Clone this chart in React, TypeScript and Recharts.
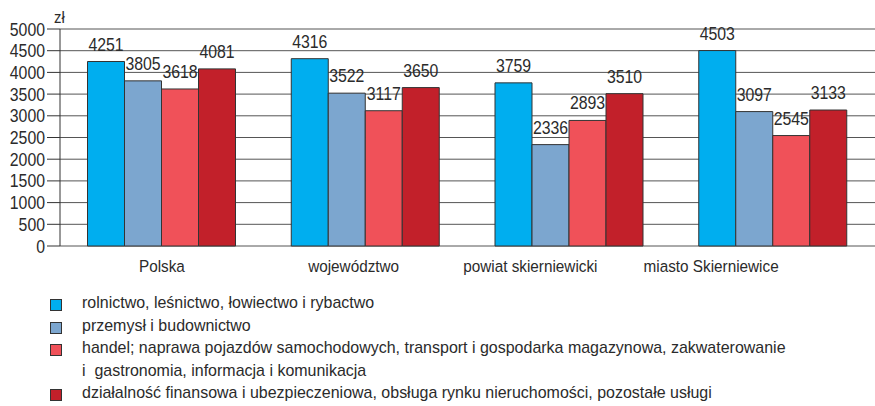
import { BarChart, Bar, XAxis, YAxis, CartesianGrid, LabelList } from 'recharts'

const categories = ['Polska', 'województwo', 'powiat skierniewicki', 'miasto Skierniewice']
const rolnictwo = [4251, 4316, 3759, 4503]
const przemysl = [3805, 3522, 2336, 3097]
const handel = [3618, 3117, 2893, 2545]
const finanse = [4081, 3650, 3510, 3133]
const yTicks = [0, 500, 1000, 1500, 2000, 2500, 3000, 3500, 4000, 4500, 5000]
const boundaryTicks = [0, 1, 2, 3, 4]

const series = [
  { key: 'rolnictwo', color: '#00AEEF', label: 'rolnictwo, leśnictwo, łowiectwo i rybactwo' },
  { key: 'przemysl', color: '#7CA6CF', label: 'przemysł i budownictwo' },
  {
    key: 'handel',
    color: '#F05159',
    label:
      'handel; naprawa pojazdów samochodowych, transport i gospodarka magazynowa, zakwaterowanie\ni  gastronomia, informacja i komunikacja',
  },
  { key: 'finanse', color: '#C2202A', label: 'działalność finansowa i ubezpieczeniowa, obsługa rynku nieruchomości, pozostałe usługi' },
]

const data = categories.map((name, i) => ({
  name,
  rolnictwo: rolnictwo[i],
  przemysl: przemysl[i],
  handel: handel[i],
  finanse: finanse[i],
}))

const FONT = '"Liberation Sans", Arial, sans-serif'
const TEXT = '#2b2b2b'
const SX = 0.88
// w oryginale podpisy kategorii są przesunięte w lewo względem słupków
const labelShift = [0, -12, -39, -62]

// tekst "zwężony" — brak fontu condensed, więc skalujemy w poziomie
function NarrowText({ x, y, anchor, size, sx = SX, children }: any) {
  return (
    <text
      transform={`translate(${x},${y}) scale(${sx},1)`}
      textAnchor={anchor}
      fill={TEXT}
      fontSize={size}
      fontFamily={FONT}
    >
      {children}
    </text>
  )
}

const YTick = ({ x, y, payload }: any) => (
  <NarrowText x={x} y={y + 6.5} anchor="end" size={18}>
    {payload.value}
  </NarrowText>
)

const XTick = ({ x, y, payload, index }: any) => (
  <NarrowText x={x + (labelShift[index] ?? 0)} y={y + 20} anchor="middle" size={17} sx={0.9}>
    {payload.value}
  </NarrowText>
)

const ValueLabel = ({ x, y, width, value }: any) => (
  <NarrowText x={x + width / 2} y={y - 11} anchor="middle" size={18}>
    {value}
  </NarrowText>
)

export default function App() {
  return (
    <div style={{ width: 875, height: 406, position: 'relative', fontFamily: FONT, background: '#fff' }}>
      <style>{'body{margin:0}'}</style>
      <BarChart
        width={875}
        height={282}
        data={data}
        margin={{ top: 29, right: 0, bottom: 0, left: 0 }}
        barCategoryGap="13.5%"
        barGap={0}
      >
        <CartesianGrid stroke="#555" vertical={false} />
        <XAxis
          xAxisId="bounds"
          type="number"
          domain={[0, 4]}
          ticks={boundaryTicks}
          height={0}
          tickSize={6}
          tickFormatter={() => ''}
          stroke="#333"
        />
        <XAxis dataKey="name" height={36} axisLine={false} tickLine={false} tick={<XTick />} tickMargin={0} />
        <YAxis
          domain={[0, 5000]}
          ticks={yTicks}
          width={60}
          interval={0}
          tickSize={13}
          tickMargin={2}
          stroke="#333"
          tick={<YTick />}
          label={{
            content: ({ viewBox }: any) => (
              <NarrowText x={viewBox.x + 54} y={viewBox.y - 6} anchor="start" size={17}>
                zł
              </NarrowText>
            ),
          }}
        />
        {series.map(s => (
          <Bar key={s.key} dataKey={s.key} fill={s.color} stroke="#333" strokeWidth={1} isAnimationActive={false}>
            <LabelList dataKey={s.key} content={<ValueLabel />} />
          </Bar>
        ))}
      </BarChart>
      <div style={{ position: 'absolute', left: 50, top: 292, fontSize: 17, color: TEXT, lineHeight: '22.5px' }}>
        {series.map(s => (
          <div key={s.key} style={{ display: 'flex', alignItems: 'flex-start' }}>
            <span
              style={{
                width: 10,
                height: 10,
                marginTop: 7,
                background: s.color,
                border: '1px solid #333',
                flex: 'none',
              }}
            />
            <span
              style={{
                marginLeft: 20,
                whiteSpace: 'pre',
                display: 'inline-block',
                transform: 'scaleX(0.94)',
                transformOrigin: 'left',
              }}
            >
              {s.label}
            </span>
          </div>
        ))}
      </div>
    </div>
  )
}
